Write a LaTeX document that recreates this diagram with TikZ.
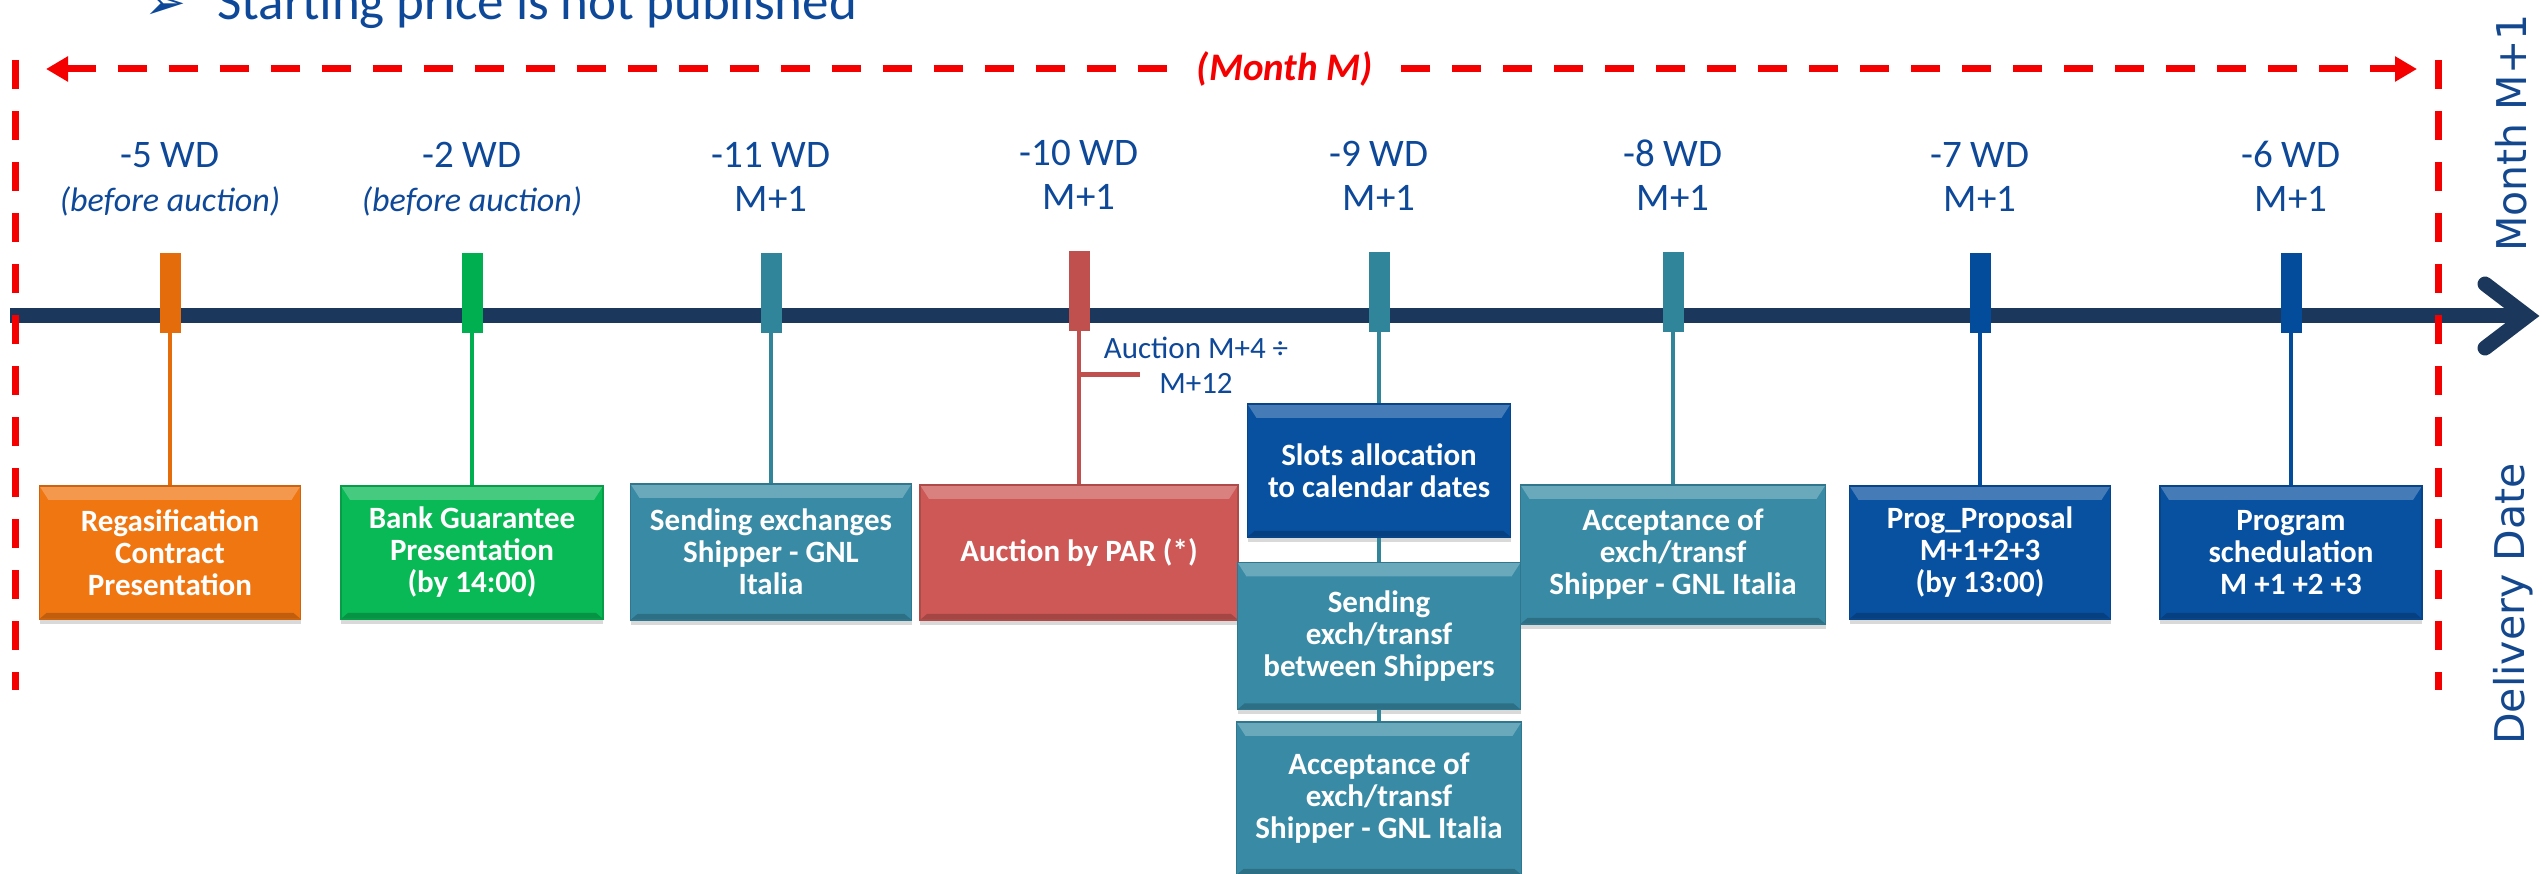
\documentclass[tikz,border=0pt]{standalone}
\usepackage{fontspec}
\setmainfont{Carlito}
\newfontfamily\dejavu{DejaVu Sans}
\usetikzlibrary{arrows.meta,positioning,calc,shadows}

\definecolor{axisnavy}{RGB}{27,56,92}
\definecolor{lblblue}{RGB}{14,72,152}
\definecolor{sideblue}{RGB}{20,72,142}
\definecolor{frred}{RGB}{245,0,0}
\definecolor{orgbox}{RGB}{240,118,18}
\definecolor{orgtick}{RGB}{228,108,10}
\definecolor{grnbox}{RGB}{8,185,85}
\definecolor{grntick}{RGB}{0,176,80}
\definecolor{tealbox}{RGB}{57,139,165}
\definecolor{tealtick}{RGB}{49,133,155}
\definecolor{redbox}{RGB}{205,88,85}
\definecolor{redtick}{RGB}{192,80,77}
\definecolor{bluebox}{RGB}{8,80,160}
\definecolor{bluetick}{RGB}{3,75,155}

\tikzset{
  bevel/.style={path picture={
    \fill[white,opacity=.25] (path picture bounding box.north west) -- (path picture bounding box.north east)
      -- ([shift={(-9pt,-14pt)}]path picture bounding box.north east) -- ([shift={(9pt,-14pt)}]path picture bounding box.north west) -- cycle;
    \fill[black,opacity=.2] (path picture bounding box.south west) -- (path picture bounding box.south east)
      -- ([shift={(-7pt,6pt)}]path picture bounding box.south east) -- ([shift={(7pt,6pt)}]path picture bounding box.south west) -- cycle;
  }}
}

\begin{document}
\begin{tikzpicture}[x=1pt,y=-1pt,node distance=152pt]
      \useasboundingbox (0,0) rectangle (2542,874);
      \tikzstyle{tick}=[rectangle,inner sep=0pt,minimum width=21pt,minimum height=80pt]
      \tikzstyle{lbl}=[align=center,inner sep=0pt,text=lblblue,font=\fontsize{39}{44}\selectfont]
      \tikzstyle{stage}=[rectangle,align=center,text=white,inner sep=4pt,line width=1.5pt,
        font=\bfseries\fontsize{31}{32}\selectfont,minimum height=133pt,bevel,
        drop shadow={opacity=.3,shadow xshift=0pt,shadow yshift=-5pt}]
      \tikzstyle{link}=[line width=4pt]
      \tikzstyle{frame}=[frred,line width=7pt,dash pattern=on 29pt off 22pt]
      \tikzstyle{side}=[rotate=90,inner sep=0pt,text=sideblue,font=\dejavu\fontsize{41}{46}\selectfont]

      % heading (cut at the top)
      \node[anchor=base west,inner sep=0pt,text=lblblue,font=\dejavu\fontsize{50}{56}\selectfont] (bul) at (144,20) {➢};
      \node[anchor=base west,inner sep=0pt,text=lblblue,font=\fontsize{53}{60}\selectfont] (ttl) at (217,20) {Starting price is not published};

      % time axis
      \coordinate (ax0) at (10,316);
      \coordinate (ax1) at (2527,316);
      \draw[axisnavy,line width=15pt] (ax0) -- (ax1);
      \draw[axisnavy,line width=15pt,line cap=round] ([shift={(-42,-32)}]ax1) -- (ax1) -- ([shift={(-42,32)}]ax1);

      % month M frame
      \coordinate (fl0) at (15,60);
      \coordinate (fl1) at (15,690);
      \coordinate (fr0) at (2438,60);
      \coordinate (fr1) at (2438,690);
      \draw[frame] (fl0) -- (fl1);
      \draw[frame] (fr0) -- (fr1);
      \node[inner xsep=28pt,text=frred,font=\bfseries\itshape\fontsize{39}{44}\selectfont] (mon) at (1285,69) {(Month M)};
      \coordinate (ml) at (46,69);
      \coordinate (mr) at (2417,69);
      \draw[frame,{Triangle[length=22pt,width=24pt]}-] (ml) -- (mon);
      \draw[frame,-{Triangle[length=22pt,width=24pt]}] (mon) -- (mr);

      \node[side] (mm1) at (2511,133) {Month M+1};
      \node[side] (dd) at (2513,604) {Delivery Date};

      % ticks
      \node[tick,fill=orgtick] (t1) at (170,293) {};
      \node[tick,fill=grntick] (t2) at (472,293) {};
      \node[tick,fill=tealtick] (t3) at (771,293) {};
      \node[tick,fill=redtick] (t4) at (1079,291) {};
      \node[tick,fill=tealtick] (t5) at (1379,292) {};
      \node[tick,fill=tealtick] (t6) at (1673,292) {};
      \node[tick,fill=bluetick] (t7) at (1980,293) {};
      \node[tick,fill=bluetick] (t8) at (2291,293) {};

      % labels
      \node[lbl,above=28pt of t1] (l1) {-5 WD\strut\\{\fontsize{34}{44}\selectfont\itshape (before auction)}\strut};
      \node[lbl,above=28pt of t2] (l2) {-2 WD\strut\\{\fontsize{34}{44}\selectfont\itshape (before auction)}\strut};
      \node[lbl,above=28pt of t3] (l3) {-11 WD\strut\\M+1\strut};
      \node[lbl,above=28pt of t4] (l4) {-10 WD\strut\\M+1\strut};
      \node[lbl,above=28pt of t5] (l5) {-9 WD\strut\\M+1\strut};
      \node[lbl,above=28pt of t6] (l6) {-8 WD\strut\\M+1\strut};
      \node[lbl,above=28pt of t7] (l7) {-7 WD\strut\\M+1\strut};
      \node[lbl,above=28pt of t8] (l8) {-6 WD\strut\\M+1\strut};

      % boxes
      \node[stage,fill=orgbox,draw=orgbox!85!black,minimum width=261pt,below=of t1] (reg) {Regasification\\Contract\\Presentation};
      \node[stage,fill=grnbox,draw=grnbox!85!black,minimum width=262pt,below=of t2] (bank) {Bank Guarantee\\Presentation\\(by 14:00)};
      \node[stage,fill=tealbox,draw=tealbox!85!black,minimum width=281pt,minimum height=136pt,below=150pt of t3] (sendex) {Sending exchanges\\Shipper - GNL\\Italia};
      \node[stage,fill=redbox,draw=redbox!85!black,minimum width=318pt,minimum height=135pt,below=153pt of t4] (auc) {Auction by PAR (*)};
      \node[stage,fill=bluebox,draw=bluebox!85!black,minimum width=263pt,below=71pt of t5] (slots) {Slots allocation\\to calendar dates};
      \node[stage,fill=tealbox,draw=tealbox!85!black,minimum width=283pt,minimum height=147pt,below=24pt of slots] (sendtr) {Sending\\exch/transf\\between Shippers};
      \node[stage,fill=tealbox,draw=tealbox!85!black,minimum width=285pt,minimum height=153pt,below=11pt of sendtr] (acctr) {Acceptance of\\exch/transf\\Shipper - GNL Italia};
      \node[stage,fill=tealbox,draw=tealbox!85!black,minimum width=305pt,minimum height=139pt,below=of t6] (acc) {Acceptance of\\exch/transf\\Shipper - GNL Italia};
      \node[stage,fill=bluebox,draw=bluebox!85!black,minimum width=261pt,below=of t7] (prog) {Prog\_Proposal\\M+1+2+3\\(by 13:00)};
      \node[stage,fill=bluebox,draw=bluebox!85!black,minimum width=262pt,below=of t8] (sched) {Program\\schedulation\\M +1 +2 +3};

      % connectors
      \draw[link,orgtick] (t1) -- (reg);
      \draw[link,grntick] (t2) -- (bank);
      \draw[link,tealtick] (t3) -- (sendex);
      \draw[link,redtick] (t4) -- (auc);
      \draw[link,tealtick] (t5) -- (slots);
      \draw[link,tealtick] (slots) -- (sendtr);
      \draw[link,tealtick] (sendtr) -- (acctr);
      \draw[link,tealtick] (t6) -- (acc);
      \draw[link,bluetick] (t7) -- (prog);
      \draw[link,bluetick] (t8) -- (sched);

      % auction window note
      \node[align=center,inner sep=0pt,text=lblblue,font=\fontsize{31}{35}\selectfont] (aucnote) at (1196,368.5) {Auction M+4 ÷\strut\\M+12\strut};
      \coordinate (brk) at (1140,374);
      \draw[redtick,line width=5pt] (t4 |- brk) -- (brk);
    \end{tikzpicture}
\end{document}
